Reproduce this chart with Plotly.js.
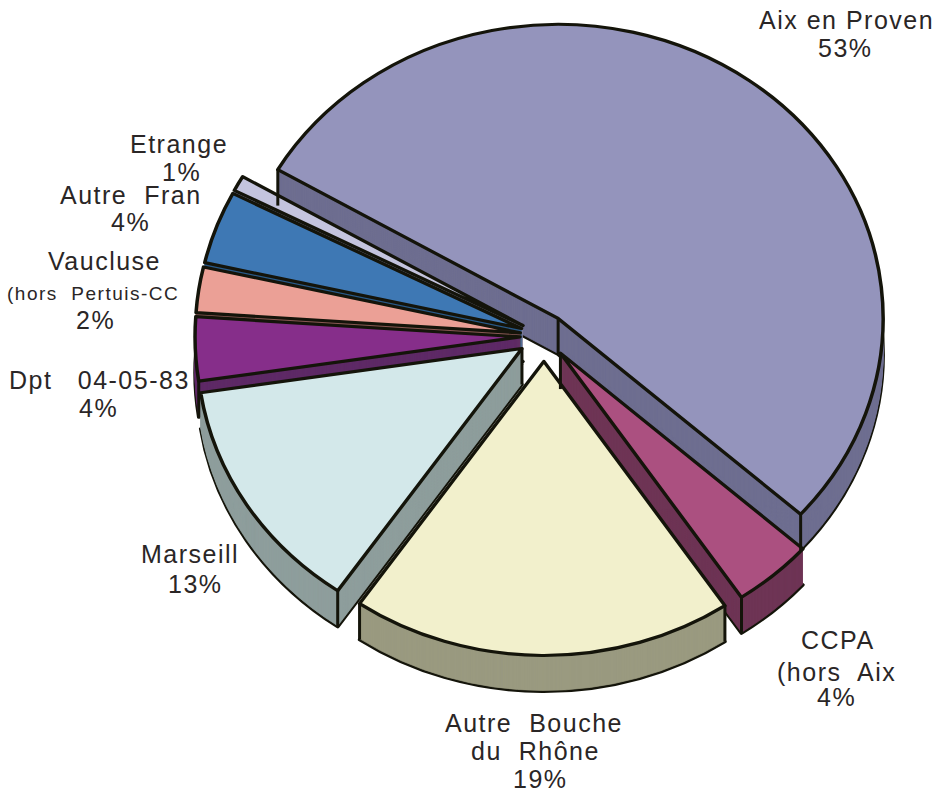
<!DOCTYPE html>
<html><head><meta charset="utf-8">
<script src="https://cdn.plot.ly/plotly-3.0.1.min.js"></script>
<style>html,body{margin:0;padding:0;background:#fff;overflow:hidden}
.annotation-text{letter-spacing:1.5px}</style>
</head><body><div id="chart" style="width:935px;height:794px"></div>
<script>
// Data
var categories = ["Aix en Provence","CCPA (hors Aix)","Autre Bouches du Rhône","Marseille","Dpt 04-05-83","Vaucluse (hors Pertuis-CCPA)","Autre France","Etranger"];
var shares = [53.15,4,19,13,3.5,2.5,4,0.85];
var topColors = ["#9494BC","#AB5080","#F2F0CC","#D3E8EA","#862E8A","#EBA096","#3E78B4","#C4C4DE"];
var wallColors = ["#6E6E90","#6E3555","#9A9A80","#8E9E9C","#5E2A66","#8A5A55","#2A5A88","#7E7E9A"];
var labelLines = ["Aix en Proven","53%","Etrange","1%","Autre\u00A0 Fran","4%","Vaucluse","(hors\u00A0 Pertuis-CC","2%","Dpt\u00A0\u00A0 04-05-83","4%","Marseill","13%","CCPA","(hors\u00A0 Aix","4%","Autre\u00A0 Bouche","du\u00A0 Rhône","19%"];
// Layout of the picture
var labelX = [846,845,179,181,131,130,104,93,95,99,98,190,195,838,836,836,534,535,540];
var labelY = [20,48,144,172,195,222,261,293,320,380,408,554,584,640,672,697,723,751,779];
var labelSize = [25,25,25,25,25,25,25,19,25,25,25,25,25,25,25,25,25,25,25];
var pullPx = [24,25,28,26,24,24,24,24];
var W=935,H=794, R=325, K=0.905, CX=544, CY=336, DEPTH=36, START=-59.6, INK="#14140A";

var pulls = pullPx.map(function(p){return p/R;});
var half = R*(1+Math.max.apply(null,pulls));
var baseCy = half, shiftY = CY-K*baseCy;

function pieLayer(d, colors, lineW){
  var cy = baseCy + d/K;
  return {type:"pie", values:shares, labels:categories, sort:false, direction:"clockwise",
    rotation:START, pull:pulls, textinfo:"none", hoverinfo:"none", showlegend:false,
    domain:{x:[(CX-half)/W,(CX+half)/W], y:[1-(cy+half)/H,1-(cy-half)/H]},
    marker:{colors:colors, line:{color:lineW?INK:colors, width:lineW||0.8}}};
}
var data=[pieLayer(DEPTH,wallColors,3.5)];
for(var d=DEPTH-1;d>0;d-=1){data.push(pieLayer(d,wallColors,0));}
data.push(pieLayer(0,topColors,3.5));

// corner geometry derived from the values
var total=shares.reduce(function(a,b){return a+b;},0), acc=0, slices=[];
shares.forEach(function(v,i){
  var a0=START+acc/total*360; acc+=v; var a1=START+acc/total*360;
  var m=(a0+a1)/2*Math.PI/180, p=pulls[i]*R;
  slices.push({a0:a0,a1:a1,ox:CX+p*Math.sin(m),oy:CY-K*p*Math.cos(m)});
});
function edge(i,which){
  var s=slices[i], x=s.ox, y=s.oy;
  if(which!=="apex"){var a=s[which]*Math.PI/180; x+=R*Math.sin(a); y-=K*R*Math.cos(a);}
  return {type:"line",xref:"paper",yref:"paper",x0:x/W,x1:x/W,y0:1-y/H,y1:1-(y+DEPTH)/H,line:{color:INK,width:3}};
}
var shapes=[edge(0,"a0"),edge(0,"a1"),edge(0,"apex"),edge(1,"a1"),edge(1,"apex"),edge(2,"a0"),edge(2,"a1"),edge(3,"a0"),edge(3,"apex"),edge(4,"a0")];

var annotations=labelLines.map(function(t,i){
  return {text:t,xref:"paper",yref:"paper",x:labelX[i]/W,y:1-labelY[i]/H,xanchor:"center",yanchor:"middle",showarrow:false,
    font:{family:"Liberation Sans, Arial, sans-serif",size:labelSize[i],color:"#2A2626"}};
});

Plotly.newPlot("chart",data,{width:W,height:H,margin:{l:0,r:0,t:0,b:0},paper_bgcolor:"#fff",showlegend:false,shapes:shapes,annotations:annotations},{displayModeBar:false,staticPlot:true}).then(function(){
  var g=document.querySelector(".pielayer");
  if(g){g.setAttribute("transform","translate(0,"+shiftY+") scale(1,"+K+")");}
});
</script></body></html>
